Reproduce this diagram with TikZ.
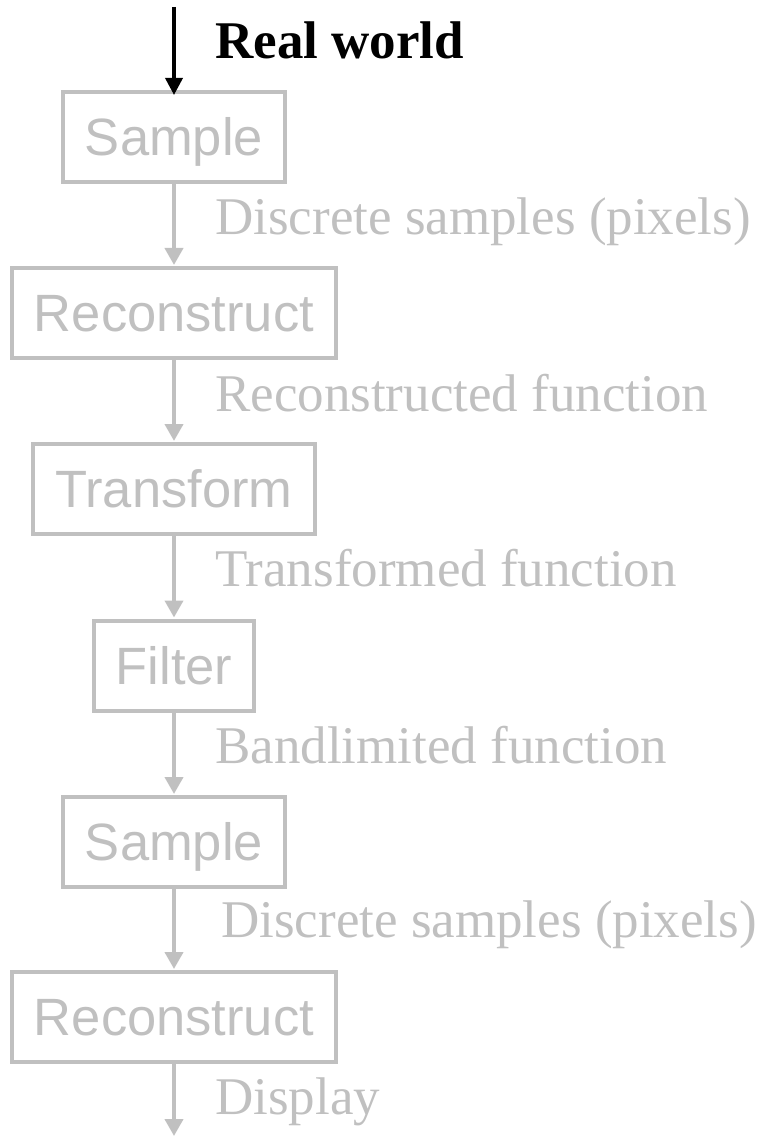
\documentclass[tikz,border=0pt]{standalone}
\usepackage{fontspec}
\setmainfont{Liberation Serif}
\newfontfamily\boxfont{Liberation Sans}
\usetikzlibrary{arrows.meta}
\definecolor{lightgr}{RGB}{192,192,192}
\begin{document}
\begin{tikzpicture}[x=1pt,y=-1pt,
  stagebox/.style={draw=lightgr,line width=4pt,text=lightgr,
    font=\boxfont\fontsize{52.5}{60}\selectfont,
    inner xsep=22pt,inner ysep=0pt,minimum height=90pt,
    text height=37.6pt,text depth=0pt},
  flowlabel/.style={text=lightgr,anchor=base west,inner sep=0pt,
    font=\fontsize{53}{60}\selectfont},
  grayarrow/.style={draw=lightgr,line width=4pt,
    -{Triangle[length=17pt 0 0,width=18pt 0 0]},shorten >=1pt},
  blackarrow/.style={draw=black,line width=3.5pt,
    -{Triangle[length=17pt 0 0,width=17pt 0 0]}}
]
\useasboundingbox (0,0) rectangle (760,1139);
\node[stagebox] (s1) at (174,137) {Sample};
\node[stagebox] (r1) at (174,313) {Reconstruct};
\node[stagebox] (t)  at (174,489) {Transform};
\node[stagebox] (f)  at (174,665.5) {Filter};
\node[stagebox] (s2) at (174,842) {Sample};
\node[stagebox] (r2) at (174,1017) {Reconstruct};

\node[anchor=base west,inner sep=0pt,font=\bfseries\fontsize{53}{60}\selectfont] (rw) at (215,59) {Real world};
\node[flowlabel] (l1) at (215,235) {Discrete samples (pixels)};
\node[flowlabel] (l2) at (215,411) {Reconstructed function};
\node[flowlabel] (l3) at (215,586) {Transformed function};
\node[flowlabel] (l4) at (215,763) {Bandlimited function};
\node[flowlabel] (l5) at (221,937) {Discrete samples (pixels)};
\node[flowlabel] (l6) at (215,1114) {Display};

\coordinate (top) at (174,7);
\coordinate (bottom) at (174,1137);
\draw[blackarrow] (top) -- ([yshift=-5pt]s1.north);
\draw[grayarrow] (s1.south) -- (r1.north);
\draw[grayarrow] (r1.south) -- (t.north);
\draw[grayarrow] (t.south) -- (f.north);
\draw[grayarrow] (f.south) -- (s2.north);
\draw[grayarrow] (s2.south) -- (r2.north);
\draw[grayarrow] (r2.south) -- (bottom);
\end{tikzpicture}
\end{document}
